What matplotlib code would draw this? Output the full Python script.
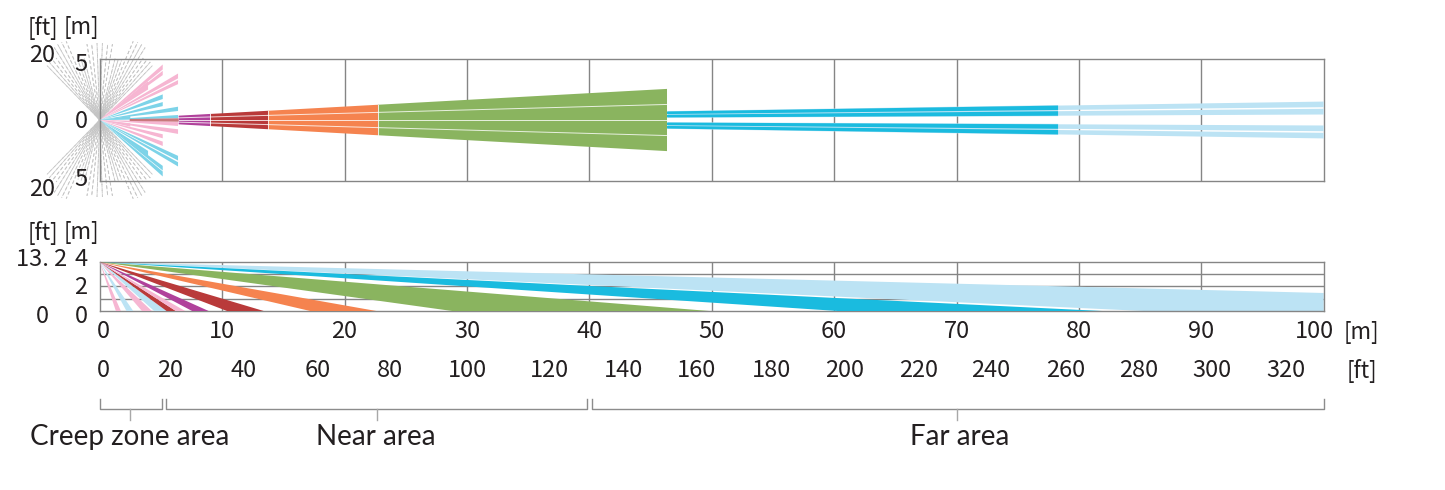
import matplotlib
matplotlib.use('Agg')
import matplotlib.pyplot as plt
import numpy as np

W, H = 1445, 490
X0, X100 = 99.7, 1323.7
NUM_FONT = ['Noto Sans CJK JP', 'DejaVu Sans']
LABEL_FONT = ['Lato', 'DejaVu Sans']

PINK = '#f6b6d2'
CYAN = '#7dd3e8'
PURPLE = '#b0419b'
RED = '#b93a3a'
ORANGE = '#f5834f'
GREEN = '#8ab45f'
BLUE = '#1abbdf'
LIGHT = '#bce3f4'
GRID = '#858585'

# top view, creep zone beams: x end [m], y edges at x end [m]
creep_x = [5.15, 5.15, 6.4, 6.4, 3.95, 5.15, 5.15, 6.4, 6.4, 2.5,
           2.5, 6.4, 6.4, 5.15, 5.15, 6.4, 6.4, 3.95, 5.15, 5.15]
creep_y1 = [4.55, 4.03, 3.81, 3.27, 3.19, 2.10, 1.47, 1.09, 0.41, 0.33,
            -0.27, -0.14, -0.76, -1.17, -1.77, -2.94, -3.46, -2.53, -3.76, -4.22]
creep_y2 = [4.14, 3.68, 3.41, 2.94, 2.50, 1.72, 1.14, 0.74, 0.14, 0.05,
            -0.54, -0.49, -1.14, -1.50, -2.13, -3.32, -3.81, -2.94, -4.14, -4.63]
creep_c = [PINK, PINK, PINK, PINK, PINK, CYAN, CYAN, CYAN, CYAN, CYAN,
           PINK, PINK, PINK, PINK, PINK, CYAN, CYAN, CYAN, CYAN, CYAN]

# top view, centre beam segments
near_x = [6.45, 9.05, 13.75, 22.75, 46.35]
near_c = [PURPLE, RED, ORANGE, GREEN]
near_slope = 0.055

# top view, far beams: slopes of strip edges, x breaks
far_strips = [(0.0045, 0.0092), (0.0105, 0.0151)]
far_x = [46.35, 78.3, 100.0]

# dashed fan seen from above: angle from vertical [deg], reach [m]
fan_angle = [-44, -41, -38, -35, -32, -29, -26, -23, -20, -17, -14, -9.5, -6, -2,
             2, 6, 9.5, 14, 17, 20, 23, 26, 29, 32, 35, 38, 41, 44]
fan_reach = [6.2, 6.3, 6.3, 6.2, 7.0, 7.1, 7.1, 7.0, 5.2, 5.2, 5.2, 6.3, 6.3, 6.3,
             6.3, 6.3, 6.3, 5.2, 5.2, 5.2, 7.0, 7.1, 7.1, 7.0, 6.2, 6.3, 6.3, 6.2]

# side view: where each beam edge lands [m], for a sensor at 4 m
side_near = [1.32, 2.19, 3.45, 4.45, 5.46, 6.22, 7.55, 10.4, 17.2, 28.8, 60.3, 66.0]
side_far = [1.73, 2.74, 4.26, 5.46, 6.22, 6.98, 8.90, 13.4, 22.6, 49.8, 81.9, 85.3]
side_c = [PINK, LIGHT, PINK, LIGHT, RED, PINK, PURPLE, RED, ORANGE, GREEN, BLUE, LIGHT]
light_top_at_100 = 1.47
sensor_h = 4.0

m_ticks = list(range(0, 101, 10))
ft_ticks = list(range(0, 321, 20))
ft_nudge = [4, -4, -5, -6, -8, -5, 2, 1, 0, 0, -1, -2, -4, -4, -6, -7, -8]

area_names = ['Creep zone area', 'Near area', 'Far area']
area_start = [0.05, 5.45, 40.25]
area_end = [5.05, 39.85, 100.0]
area_tick = [2.5, 22.65, 70.05]
area_text_x = [130, 376, 960]


def m2px(m):
    return X0 + (X100 - X0) * m / 100.0


def make_axes(top, bottom):
    ax = fig.add_axes([X0 / W, 1 - bottom / H, (X100 - X0) / W, (bottom - top) / H])
    for s in ax.spines.values():
        s.set_color(GRID)
        s.set_linewidth(1.0)
    ax.set_xticks([])
    ax.set_yticks([])
    ax.set_xlim(0, 100)
    ax.patch.set_alpha(0)
    return ax


def wedge(ax, x0, x1, s0, s1, color, z=3):
    ax.fill([x0, x1, x1, x0], [s0 * x0, s0 * x1, s1 * x1, s1 * x0],
            color=color, lw=0, zorder=z)


fig = plt.figure(figsize=(W / 100, H / 100), dpi=100)

# --- top view ---
ax1 = make_axes(59, 181)
ax1.set_ylim(-5, 5)
for m in m_ticks[1:-1]:
    ax1.axvline(m, color=GRID, lw=1.0, zorder=1)

for sign in (1, -1):
    for side in (1, -1):
        for i, (a, r) in enumerate(zip(fan_angle, fan_reach)):
            t = np.deg2rad(a)
            # stagger the dashes so they don't line up in rings
            ax1.plot([0, side * r * np.sin(t)], [0, sign * r * np.cos(t)], color='#c4c4c4',
                     lw=0.6, linestyle=((i * 2.7) % 7, (4, 3)), clip_on=False, zorder=2)

ax1.fill([2.45, 6.45, 6.45, 2.45], [0.08, 0.14, -0.14, -0.08], color='#c9787c', lw=0, zorder=4)
for x, y1, y2, c in zip(creep_x, creep_y1, creep_y2, creep_c):
    ax1.fill([0, x, x], [0, y1, y2], color=c, lw=0, zorder=3)

for i, c in enumerate(near_c):
    x0, x1 = near_x[i], near_x[i + 1]
    wedge(ax1, x0, x1, -near_slope, near_slope, c)
    for f in (-0.5, 0, 0.5):
        ax1.plot([x0, x1], [f * near_slope * x0, f * near_slope * x1], color='white',
                 lw=0.7, alpha=0.8, zorder=4)
    ax1.plot([x1, x1], [-near_slope * x1, near_slope * x1], color='white', lw=0.7,
             alpha=0.8, zorder=4)

for s0, s1 in far_strips:
    for sign in (1, -1):
        wedge(ax1, far_x[1], far_x[2], sign * s0, sign * s1, LIGHT)
        wedge(ax1, far_x[0], far_x[1], sign * s0, sign * s1, BLUE, z=4)
for sign in (1, -1):
    wedge(ax1, far_x[0], far_x[1], sign * 0.0040, sign * 0.0156, LIGHT)

# --- side view ---
ax2 = make_axes(262, 311)
ax2.set_ylim(0, 4)
for m in m_ticks[1:-1]:
    ax2.axvline(m, color=GRID, lw=1.0, zorder=1)
for y in (1, 2, 3):
    ax2.axhline(y, color=GRID, lw=1.0, zorder=1)

for n, f, c in zip(side_near, side_far, side_c):
    if c == LIGHT and f > 80:
        ax2.fill([0, 100, 100, f], [sensor_h, light_top_at_100, 0, 0], color=c, lw=0, zorder=2)
    else:
        ax2.fill([0, f, n], [sensor_h, 0, 0], color=c, lw=0, zorder=3)

# --- labels and brackets, in picture pixels ---
ann = fig.add_axes([0, 0, 1, 1])
ann.set_xlim(0, W)
ann.set_ylim(H, 0)
ann.axis('off')
ann.patch.set_alpha(0)


def num(x, y, s, size=17):
    ann.text(x, y + 1.5, s, ha='center', va='center', fontsize=size, family=NUM_FONT, color='#231f20')


for y, s in ((54, '20'), (120, '0'), (188, '20'), (258, '13. 2'), (315, '0')):
    num(42, y, s)
for y, s in ((63, '5'), (120, '0'), (178, '5'), (258, '4'), (286, '2'), (315, '0')):
    num(81, y, s)
for y in (26, 231):
    num(43, y, '[ft]', 16)
    num(81, y, '[m]', 16)

m_nudge = {0: 4, 100: -9}
for m in m_ticks:
    num(m2px(m) + m_nudge.get(m, 0), 330, str(m))
for ft, d in zip(ft_ticks, ft_nudge):
    num(m2px(ft * 0.3048) + d, 369, str(ft))
num(1361, 331, '[m]', 16)
num(1362, 369, '[ft]', 16)

for name, a, b, t, tx in zip(area_names, area_start, area_end, area_tick, area_text_x):
    ann.plot([m2px(a), m2px(a), m2px(b), m2px(b)], [399, 409, 409, 399], color='#8c8c8c', lw=1.0)
    ann.plot([m2px(t), m2px(t)], [409, 420], color='#a8a8a8', lw=1.0)
    ann.text(tx, 437, name, ha='center', va='center', fontsize=20, family=LABEL_FONT, color='#231f20')

fig.savefig('out.png', dpi=100)
